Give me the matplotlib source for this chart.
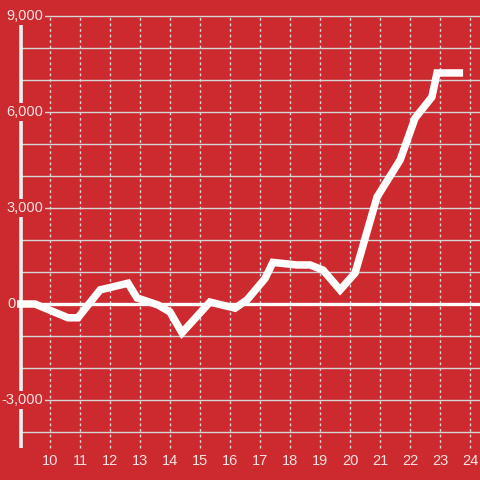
import matplotlib
matplotlib.use("Agg")
import matplotlib.pyplot as plt

plt.rcParams['font.family'] = ['Liberation Sans', 'DejaVu Sans']

# data
x_vals = [8.9, 9.5, 10.6, 10.93, 11.67, 12.6, 12.9, 13.6, 14.0, 14.4, 15.33, 16.17,
          16.57, 17.17, 17.43, 18.23, 18.67, 19.1, 19.67, 20.17, 20.9, 21.67, 22.17,
          22.73, 22.9, 23.77]
y_vals = [0, 0, -430, -430, 440, 650, 190, -30, -250, -900, 60, -130,
          130, 800, 1300, 1220, 1220, 1060, 440, 970, 3340, 4500, 5810,
          6470, 7220, 7220]
y_ticks = [-3000, 0, 3000, 6000, 9000]
y_grid = list(range(-4000, 9001, 1000))
x_ticks = list(range(10, 25))

BG = '#CC2A2F'
GRID = '#d6d6d6'
TXT = '#f6e4e4'

fig = plt.figure(figsize=(4.8, 4.8), dpi=100)
fig.patch.set_facecolor(BG)
ax = fig.add_axes([0, 0, 1, 1])
ax.set_facecolor(BG)
ax.set_xlim(8.3333, 24.3333)
ax.set_ylim(-5500, 9500)
ax.axis('off')

x_left = 9.033
x_right = 24.3333
# horizontal grid lines
for v in y_grid:
    if v == 0:
        continue
    ax.plot([x_left, x_right], [v, v], color=GRID, lw=1.0, zorder=1)
# vertical dotted lines
for t in x_ticks:
    ax.plot([t, t], [-4500, 9000], color=GRID, lw=1.0, ls=(0, (2, 2)), zorder=1)
# spine
ax.plot([x_left, x_left], [-4500, 8750], color='#f2f2f2', lw=2.6, solid_capstyle='butt', zorder=2)
# zero line
ax.plot([8.9, x_right], [0, 0], color='white', lw=2.4, zorder=3)

# y labels
for v in y_ticks:
    lab = f"{v:,}"
    xr = 8.3333 + (43 if v != 0 else 15.5) / 30
    ax.text(xr, v, lab, ha='right', va='center', color=TXT, fontsize=10.5,
            bbox=dict(boxstyle='square,pad=0.15', fc=BG, ec='none'), zorder=4)

# data line
ax.plot(x_vals, y_vals, color='white', lw=5.4, solid_joinstyle='miter',
        solid_capstyle='butt', zorder=5)

# x labels
for t in x_ticks:
    ax.text(t, -4906, str(t), ha='center', va='center', color=TXT, fontsize=10.5, zorder=6)

fig.savefig('out.png', dpi=100, facecolor=BG)
